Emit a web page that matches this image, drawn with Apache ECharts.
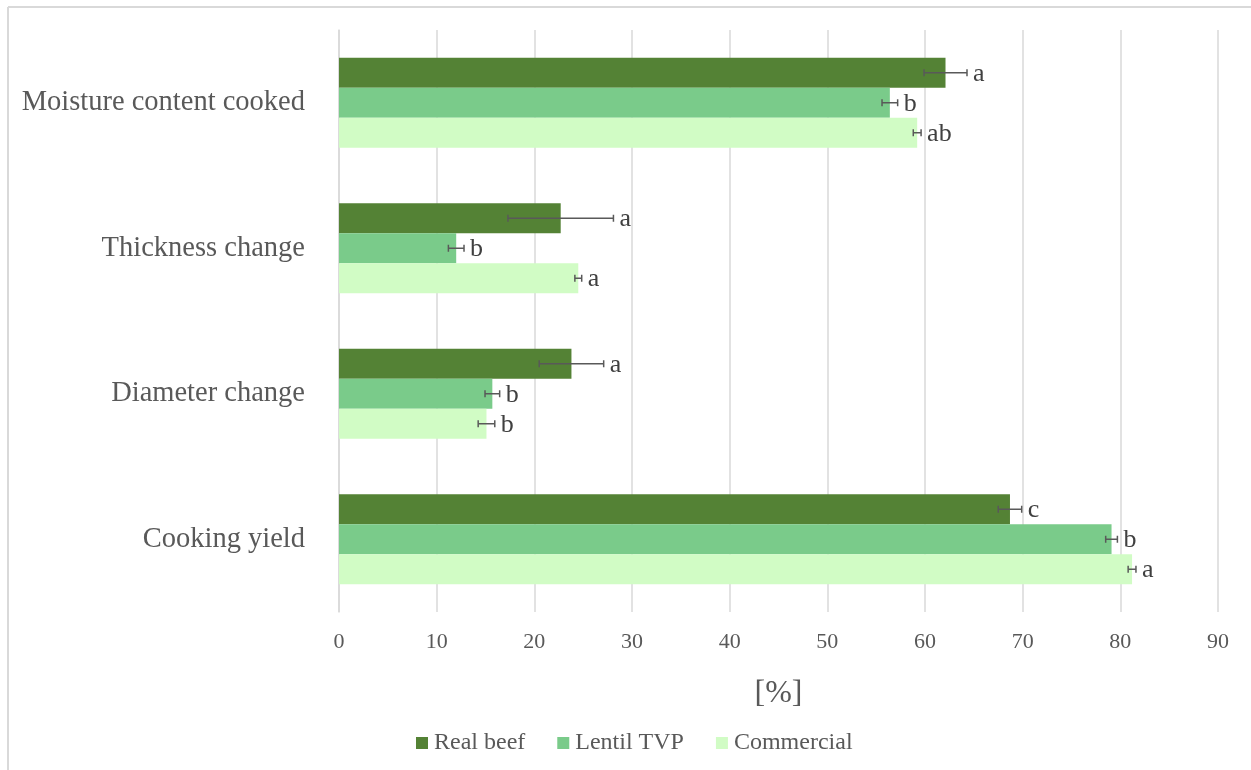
<!DOCTYPE html>
<html>
<head>
<meta charset="utf-8">
<script src="https://cdn.jsdelivr.net/npm/echarts@6/dist/echarts.min.js"></script>
<style>
html, body { margin: 0; padding: 0; background: #fff; }
#chart { width: 1251px; height: 770px; }
</style>
</head>
<body>
<div id="chart"></div>
<script>
// categories, top to bottom
var categories = ['Moisture content cooked', 'Thickness change', 'Diameter change', 'Cooking yield'];
var seriesNames = ['Real beef', 'Lentil TVP', 'Commercial'];
var colors = ['#548235', '#7acb8a', '#d1fcc5'];

// means [%]
var realBeef   = [62.1, 22.7, 23.8, 68.7];
var lentilTVP  = [56.4, 12.0, 15.7, 79.1];
var commercial = [59.2, 24.5, 15.1, 81.2];

// standard deviations
var realBeefSd   = [2.2, 5.4, 3.3, 1.2];
var lentilTVPSd  = [0.8, 0.8, 0.75, 0.6];
var commercialSd = [0.4, 0.35, 0.85, 0.4];

// significance letters
var realBeefLetters   = ['a', 'a', 'a', 'c'];
var lentilTVPLetters  = ['b', 'b', 'b', 'b'];
var commercialLetters = ['ab', 'a', 'b', 'a'];

var xTicks = [0, 90, 10];

var means = [realBeef, lentilTVP, commercial];
var sds = [realBeefSd, lentilTVPSd, commercialSd];
var letters = [realBeefLetters, lentilTVPLetters, commercialLetters];

var BAR_W = 30;
var fontFam = '"Liberation Serif", "Times New Roman", serif';

var myChart = echarts.init(document.getElementById('chart'));

function errorSeries(idx) {
	var data = [];
	for (var i = 0; i < categories.length; i++) {
		data.push([i, means[idx][i], sds[idx][i], letters[idx][i]]);
	}
	return {
		type: 'custom',
		name: seriesNames[idx] + ' err',
		z: 5,
		silent: true,
		renderItem: function (params, api) {
			var cat = api.value(0);
			var m = api.value(1);
			var sd = api.value(2);
			var p0 = api.coord([m - sd, cat]);
			var p1 = api.coord([m + sd, cat]);
			var y = p0[1] + (idx - 1) * BAR_W;
			var st = { stroke: '#595959', lineWidth: 1.5 };
			var cap = 3.5;
			return {
				type: 'group',
				children: [
					{ type: 'line', shape: { x1: p0[0], y1: y, x2: p1[0], y2: y }, style: st },
					{ type: 'line', shape: { x1: p0[0], y1: y - cap, x2: p0[0], y2: y + cap }, style: st },
					{ type: 'line', shape: { x1: p1[0], y1: y - cap, x2: p1[0], y2: y + cap }, style: st },
					{
						type: 'text',
						style: {
							x: p1[0] + 6, y: y + 1,
							text: data[cat][3],
							fill: '#404040',
							font: '26px ' + fontFam,
							verticalAlign: 'middle',
							align: 'left'
						}
					}
				]
			};
		},
		data: data
	};
}

var series = [];
for (var s = 0; s < 3; s++) {
	series.push({
		name: seriesNames[s],
		type: 'bar',
		barWidth: BAR_W,
		barGap: '0%',
		itemStyle: { color: colors[s] },
		data: means[s]
	});
}
for (var s2 = 0; s2 < 3; s2++) {
	series.push(errorSeries(s2));
}

var option = {
	backgroundColor: '#fff',
	animation: false,
	textStyle: { fontFamily: fontFam },
	graphic: [
		{ type: 'line', shape: { x1: 8, y1: 7, x2: 1251, y2: 7 }, style: { stroke: '#d9d9d9', lineWidth: 2 } },
		{ type: 'line', shape: { x1: 8, y1: 7, x2: 8, y2: 770 }, style: { stroke: '#d9d9d9', lineWidth: 2 } }
	],
	legend: {
		data: seriesNames,
		top: 726,
		left: 411,
		icon: 'rect',
		itemWidth: 12,
		itemHeight: 12,
		itemGap: 32,
		textStyle: { fontSize: 24, color: '#595959', fontFamily: fontFam, padding: [0, 0, 0, 1] }
	},
	grid: { left: 339, right: 33, top: 30, bottom: 158 },
	xAxis: {
		type: 'value',
		min: xTicks[0],
		max: xTicks[1],
		interval: xTicks[2],
		name: '[%]',
		nameLocation: 'middle',
		nameGap: 66,
		nameTextStyle: { fontSize: 32, color: '#595959', fontFamily: fontFam },
		axisLine: { show: false },
		axisTick: { show: false },
		axisLabel: { fontSize: 22, color: '#595959', margin: 19, fontFamily: fontFam },
		splitLine: { lineStyle: { color: '#d9d9d9', width: 1.5 } }
	},
	yAxis: {
		type: 'category',
		inverse: true,
		data: categories,
		axisLine: { show: true, lineStyle: { color: '#d9d9d9', width: 1.5 } },
		axisTick: { show: false },
		axisLabel: { fontSize: 28.5, color: '#595959', margin: 34, fontFamily: fontFam }
	},
	series: series
};

myChart.setOption(option);
</script>
</body>
</html>
